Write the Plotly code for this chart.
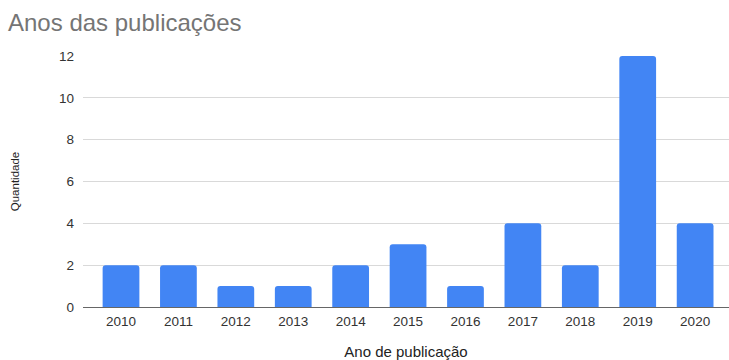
import plotly.graph_objects as go

years = ["2010", "2011", "2012", "2013", "2014", "2015", "2016", "2017", "2018", "2019", "2020"]
counts = [2, 2, 1, 1, 2, 3, 1, 4, 2, 12, 4]
y_ticks = [0, 2, 4, 6, 8, 10, 12]

fig = go.Figure(go.Bar(x=years, y=counts, marker=dict(color="#4285F4", line=dict(width=0)),
                       hoverinfo="x+y"))

fig.update_layout(
    width=729, height=360,
    margin=dict(l=83, r=0, t=56, b=53),
    paper_bgcolor="white", plot_bgcolor="white",
    font=dict(family="Liberation Sans, Arial, sans-serif", color="#333333"),
    title=dict(text="Anos das publicações", x=0.011, xanchor="left", y=0.938, yanchor="middle",
               font=dict(size=24, color="#757575")),
    bargap=0.36,
    barcornerradius=3,
    showlegend=False,
)
fig.update_xaxes(type="category", range=[-0.662, 10.59], showgrid=False, automargin=False,
                 showline=True, linecolor="#666666", linewidth=1,
                 tickfont=dict(size=13.5, color="#333333"), ticks="", ticklabelstandoff=2,
                 title=dict(text="Ano de publicação", font=dict(size=15, color="#222222"), standoff=32))
fig.update_yaxes(range=[0, 12], tickvals=y_ticks, showgrid=True, gridcolor="#d9d9d9", gridwidth=1,
                 zeroline=False, showline=False, automargin=False,
                 tickfont=dict(size=13.5, color="#333333"), ticklabelstandoff=8,
                 title=dict(text="Quantidade", font=dict(size=11.5, color="#222222"), standoff=36))

fig.write_html("out.html")
